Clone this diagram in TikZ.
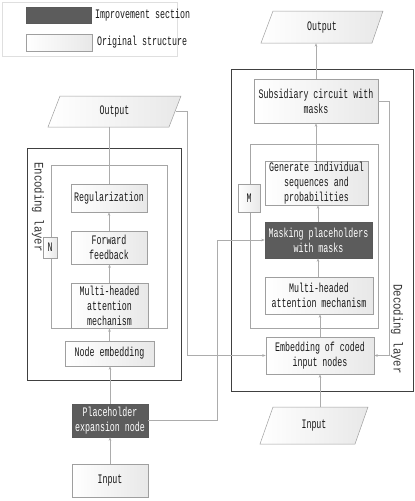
\documentclass[tikz,border=0pt]{standalone}
\usepackage{fontspec}
\newfontfamily\boxfont[FakeStretch=0.64]{Liberation Mono}
\newfontfamily\layerfont[FakeStretch=0.82]{Liberation Mono}
\usetikzlibrary{arrows.meta,calc}
\begin{document}
\begin{tikzpicture}[x=1pt,y=-1pt,
  txt/.style={font=\boxfont\fontsize{13}{15}\selectfont, text=black!90, align=center, inner sep=0pt},
  lbox/.style={txt, draw=gray!75, line width=0.5pt, left color=white, right color=gray!18},
  dbox/.style={txt, draw=black!65, line width=0.5pt, fill=black!64, text=white},
  frame/.style={draw=black!75, line width=0.8pt},
  loopbox/.style={draw=gray!70, line width=0.6pt},
  link/.style={draw=gray!65, line width=0.6pt},
  arr/.style={link, -{Stealth[length=3.5pt,width=2.6pt]}},
  layer/.style={font=\layerfont\fontsize{13}{15}\selectfont, text=black!80, inner sep=0pt, rotate=-90}
]
\useasboundingbox (0,0) rectangle (415,501);

% legend
\node[draw=gray!25, line width=0.4pt, minimum width=175pt, minimum height=54pt, inner sep=0pt] (legend) at (89.5,29) {};
\node[dbox, minimum width=65pt, minimum height=16pt] (swD) at (58.5,15) {};
\node[lbox, minimum width=66pt, minimum height=17pt] (swL) at (59,42.5) {};
\node[txt, anchor=west] (legD) at (95,15) {Improvement section};
\node[txt, anchor=west] (legL) at (97,42) {Original structure};

% frames
\draw[frame] (27,148) rectangle (181,380);
\draw[frame] (231,69) rectangle (413,391);
\draw[loopbox] (51,165) rectangle (167,328);
\draw[loopbox] (250,144) rectangle (378,328);

\node[layer] (enclab) at (38,207) {Encoding layer};
\node[layer] (declab) at (397,329) {Decoding layer};

% left column
\path[lbox] (60,96) -- (181,96) -- (169,127) -- (48,127) -- cycle;
\node[txt, minimum width=110pt, minimum height=31pt] (outL) at (114.5,111.5) {Output};
\node[lbox, minimum width=76pt, minimum height=28pt] (reg) at (109,198) {Regularization};
\node[lbox, minimum width=76pt, minimum height=33pt] (ffb) at (109,247.5) {Forward\\feedback};
\node[lbox, minimum width=77pt, minimum height=45pt] (mhaL) at (109.5,305.5) {Multi-headed\\attention\\mechanism};
\node[lbox, minimum width=89pt, minimum height=25pt] (nemb) at (109.5,353.5) {Node embedding};
\node[dbox, minimum width=76pt, minimum height=33pt] (phe) at (110,420.5) {Placeholder\\expansion node};
\node[lbox, minimum width=76pt, minimum height=33pt] (inL) at (110,480.5) {Input};
\node[lbox, minimum width=14pt, minimum height=21pt] (nbox) at (50,247.5) {N};

% right column
\path[lbox] (273,11) -- (383,11) -- (372,43) -- (261,43) -- cycle;
\node[txt, minimum width=100pt, minimum height=32pt] (outR) at (322,27) {Output};
\node[lbox, minimum width=124pt, minimum height=44pt] (sub) at (316,101) {Subsidiary circuit with\\masks};
\node[lbox, minimum width=103pt, minimum height=44pt] (gen) at (316.5,183) {Generate individual\\sequences and\\probabilities};
\node[dbox, minimum width=107pt, minimum height=36pt] (mask) at (318.5,240) {Masking placeholders\\with masks};
\node[lbox, minimum width=108pt, minimum height=37pt] (mhaR) at (319,295.5) {Multi-headed\\attention mechanism};
\node[lbox, minimum width=108pt, minimum height=37pt] (emb) at (320,355.5) {Embedding of coded\\input nodes};
\path[lbox] (273,407) -- (368,407) -- (355,444) -- (260,444) -- cycle;
\node[txt, minimum width=90pt, minimum height=37pt] (inR) at (314,425.5) {Input};
\node[lbox, minimum width=22pt, minimum height=28pt] (mbox) at (249,198) {M};

% left connectors
\draw[arr] (inL.north) -- (inL.north |- phe.south);
\draw[arr] (phe.north) -- (phe.north |- nemb.south);
\draw[arr] (nemb.north) -- (nemb.north |- mhaL.south);
\draw[arr] (mhaL.north) -- (mhaL.north |- ffb.south);
\draw[arr] (ffb.north) -- (ffb.north |- reg.south);
\draw[link] (reg.north) -- (reg.north |- outL.south);

% right connectors
\draw[arr] (emb.south |- inR.north) -- (emb.south);
\draw[arr] (emb.north) -- (emb.north |- mhaR.south);
\draw[arr] ([xshift=-1pt]mhaR.north) -- ([xshift=-1pt]mhaR.north |- mask.south);
\draw[arr] ([xshift=-0.5pt]mask.north) -- ([xshift=-0.5pt]mask.north |- gen.south);
\draw[arr] ([xshift=-0.5pt]gen.north) -- ([xshift=-0.5pt]gen.north |- sub.south);
\draw[arr] (sub.north) -- (sub.north |- outR.south);

% cross connectors
\coordinate (oLr) at (175.5,111.5);
\draw[arr] (oLr) -- ++(11.5,0) |- (emb.west);
\draw[arr] (phe.east) -- ++(69,0) |- (mask.west);
\draw[arr] (sub.east) -- ++(11,0) |- (emb.east);
\end{tikzpicture}
\end{document}
